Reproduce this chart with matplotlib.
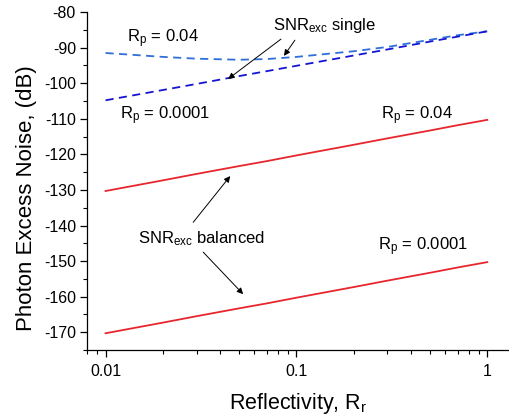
import matplotlib
matplotlib.use("Agg")
import matplotlib.pyplot as plt
from matplotlib.ticker import FixedLocator, LogLocator, NullFormatter, FixedFormatter

plt.rcParams["font.family"] = ["Liberation Sans", "DejaVu Sans"]
plt.rcParams["mathtext.default"] = "regular"
plt.rcParams["axes.unicode_minus"] = False

# reflectivity of the reference arm
rr = [0.01, 0.02, 0.03, 0.05, 0.07, 0.1, 0.2, 0.3, 0.5, 0.7, 1.0]

# single detection, excess noise (dB)
single_rp004 = [-91.5, -92.6, -93.1, -93.4, -93.2, -92.6, -91.0, -89.8, -87.8, -86.5, -85.4]
single_rp00001 = [-104.8, -101.9, -100.2, -98.0, -96.6, -95.1, -92.2, -90.5, -88.3, -86.9, -85.4]

# balanced detection, excess noise (dB)
balanced_rp004 = [-130.3, -127.3, -125.5, -123.3, -121.9, -120.3, -117.3, -115.5, -113.3, -111.8, -110.3]
balanced_rp00001 = [-170.3, -167.3, -165.5, -163.3, -161.9, -160.3, -157.3, -155.5, -153.3, -151.8, -150.3]

x_ticks = [0.01, 0.1, 1]
x_tick_labels = ["0.01", "0.1", "1"]
y_ticks = [-170, -160, -150, -140, -130, -120, -110, -100, -90, -80]

fig = plt.figure(figsize=(5.09, 4.17), dpi=100)
ax = fig.add_axes([0.171, 0.1607, 0.829, 0.8103])

ax.plot(rr, balanced_rp004, color="#e8262e", lw=1.3)
ax.plot(rr, balanced_rp00001, color="#e8262e", lw=1.3)
ax.plot(rr, single_rp004, color="#2f6fd6", lw=1.3, ls=(0, (4.5, 3)))
ax.plot(rr, single_rp00001, color="#1414d2", lw=1.3, ls=(0, (4.5, 3)))

ax.set_xscale("log")
ax.set_xlim(0.008, 1.3)
ax.set_ylim(-175, -80)

ax.xaxis.set_major_locator(FixedLocator(x_ticks))
ax.xaxis.set_major_formatter(FixedFormatter(x_tick_labels))
ax.xaxis.set_minor_locator(LogLocator(base=10, subs=range(2, 10), numticks=20))
ax.xaxis.set_minor_formatter(NullFormatter())
ax.yaxis.set_major_locator(FixedLocator(y_ticks))
ax.yaxis.set_minor_locator(FixedLocator(range(-175, -79, 5)))

for side in ("top", "right"):
    ax.spines[side].set_visible(False)
for side in ("left", "bottom"):
    ax.spines[side].set_linewidth(0.9)

ax.tick_params(which="major", direction="out", length=5, width=0.9, labelsize=11.5, pad=3)
ax.tick_params(axis="x", which="major", pad=5)
ax.tick_params(which="minor", direction="out", length=3, width=0.8)

ax.set_xlabel(r"Reflectivity, $R_r$", fontsize=15.5, labelpad=9)
ax.set_ylabel("Photon Excess Noise, (dB)", fontsize=16)
ax.yaxis.set_label_coords(-0.118, 0.45)

fs = 12
ax.text(0.0129, -88.6, r"$R_p$ = 0.04", fontsize=fs, va="baseline")
ax.text(0.01197, -110.2, r"$R_p$ = 0.0001", fontsize=fs, va="baseline")
ax.text(0.0753, -85.1, r"SNR$_{exc}$ single", fontsize=fs, va="baseline")
ax.text(0.276, -110.1, r"$R_p$ = 0.04", fontsize=fs, va="baseline")
ax.text(0.01485, -145.05, r"SNR$_{exc}$ balanced", fontsize=fs, va="baseline")
ax.text(0.2667, -147.1, r"$R_p$ = 0.0001", fontsize=fs, va="baseline")

arrow = dict(arrowstyle="-|>", color="black", lw=0.7, mutation_scale=9, shrinkA=0, shrinkB=0)
ax.annotate("", xy=(0.0439, -98.8), xytext=(0.083, -87.6), arrowprops=arrow)
ax.annotate("", xy=(0.0861, -92.3), xytext=(0.0982, -87.9), arrowprops=arrow)
ax.annotate("", xy=(0.045, -126.1), xytext=(0.0288, -139.1), arrowprops=arrow)
ax.annotate("", xy=(0.0526, -159.3), xytext=(0.0325, -147.5), arrowprops=arrow)

fig.savefig("out.png", dpi=100)
